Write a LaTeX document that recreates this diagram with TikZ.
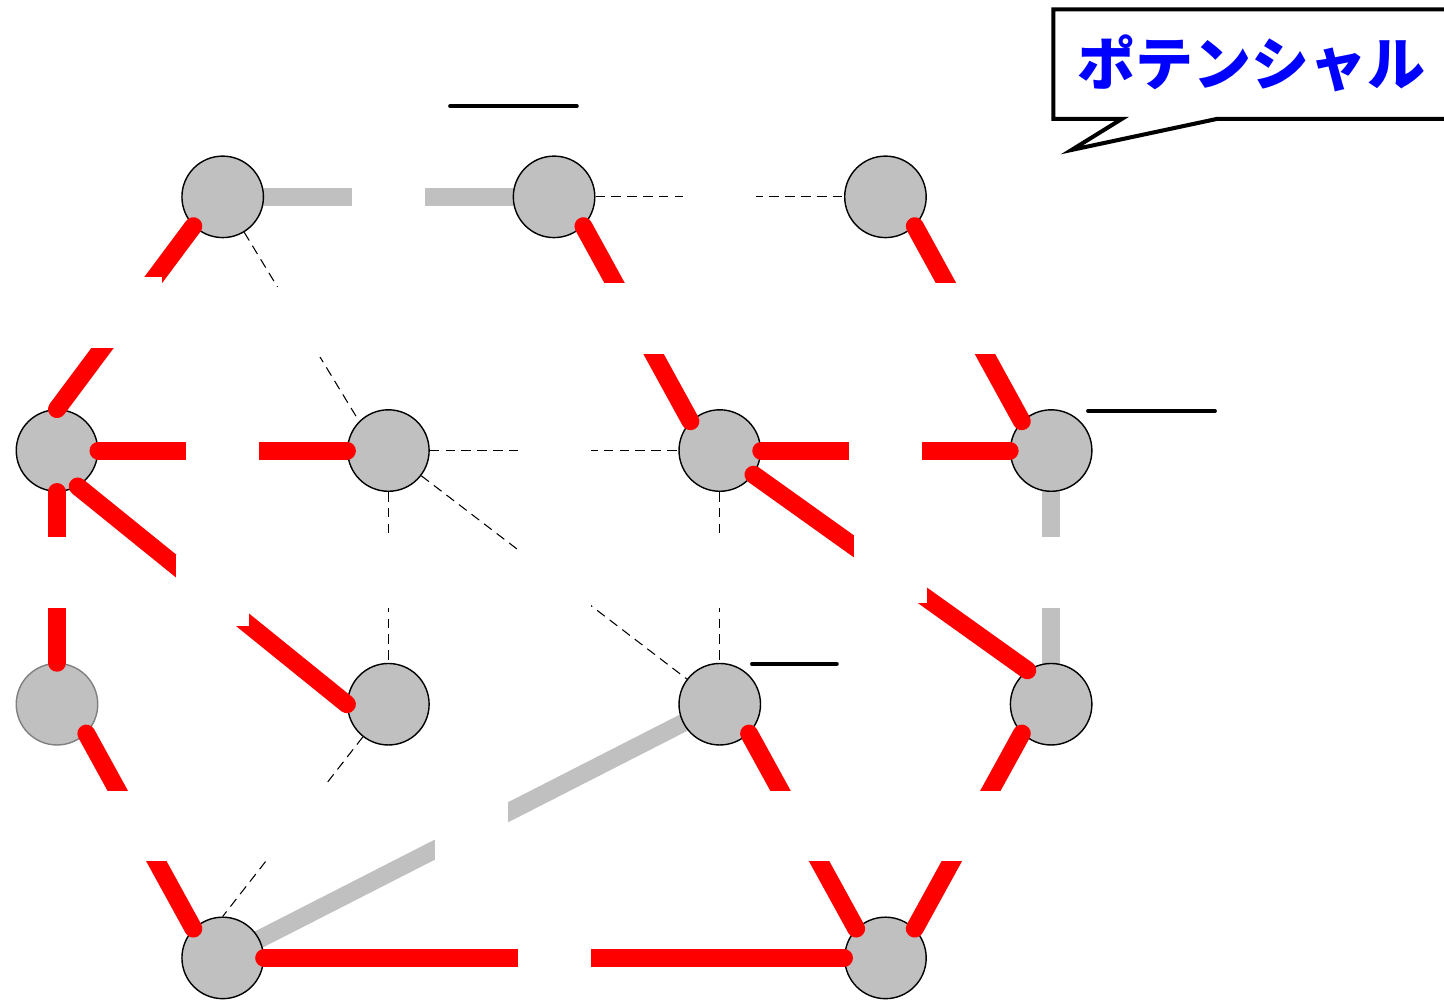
\documentclass[tikz,border=0pt]{standalone}
\usepackage{fontspec}
\newfontfamily\jpfont{Noto Sans CJK JP}
\usetikzlibrary{backgrounds}
\definecolor{sitegray}{RGB}{192,192,192}
\tikzset{
  site/.style={circle,draw,fill=sitegray,minimum size=1.63cm,inner sep=0pt,line width=0.8pt},
  redbond/.style={draw=red,line width=10.2pt,line cap=round},
  graybond/.style={draw=sitegray,line width=10.2pt},
  weakbond/.style={line width=0.6pt,dash pattern=on 5.5pt off 3.5pt},
  gapbox/.style={fill=white,minimum width=1.46cm,minimum height=1.41cm,inner sep=0pt,yshift=0.1cm},
  potbar/.style={line width=2.1pt,line cap=round},
}
\begin{document}
\begin{tikzpicture}[x=3.314cm,y=5.074cm]
\useasboundingbox (-0.344,-0.166) rectangle (8.371,3.776);
% sites
\node[site] (0) at (1,3) {};
\node[site] (1) at (3,3) {};
\node[site] (2) at (5,3) {};
\node[site] (3) at (0,2) {};
\node[site] (4) at (2,2) {};
\node[site] (5) at (4,2) {};
\node[site] (6) at (6,2) {};
\node[site,draw=gray] (7) at (0,1) {};
\node[site] (8) at (2,1) {};
\node[site] (9) at (4,1) {};
\node[site] (10) at (6,1) {};
\node[site] (11) at (1,0) {};
\node[site] (12) at (5,0) {};
% gray and dashed bonds, behind the sites
\begin{scope}[on background layer]
\draw[graybond](0.center)--node[gapbox]{}(1.center);
\draw[graybond](6.center)--node[gapbox]{}(10.center);
\draw[graybond](9.center)--node[gapbox]{}(11.center);
\draw[weakbond](1)--node[gapbox]{}(2);
\draw[weakbond](0)--node[gapbox]{}(4.north west);
\draw[weakbond](4)--node[gapbox]{}(5);
\draw[weakbond](4)--node[gapbox]{}(8);
\draw[weakbond](4)--node[gapbox]{}(9);
\draw[weakbond](5)--node[gapbox]{}(9);
\draw[weakbond](8)--node[gapbox]{}(11.north);
\end{scope}
% red bonds
\draw[redbond](0.south west)--node[gapbox]{}(3.north);
\draw[redbond](1.south east)--node[gapbox]{}(5.north west);
\draw[redbond](2.south east)--node[gapbox]{}(6.north west);
\draw[redbond](3.east)--node[gapbox]{}(4.west);
\draw[redbond](3.south)--node[gapbox]{}(7.north);
\draw[redbond](3.-60)--node[gapbox]{}(8.west);
\draw[redbond](5.east)--node[gapbox]{}(6.west);
\draw[redbond](5)--node[gapbox]{}(10.125);
\draw[redbond](7.south east)--node[gapbox]{}(11.north west);
\draw[redbond](9.south east)--node[gapbox]{}(12.north west);
\draw[redbond](10.south west)--node[gapbox]{}(12.north east);
\draw[redbond](11.east)--node[gapbox]{}(12.west);
% potential levels
\draw[potbar](2.372,3.358)--(3.138,3.358);
\draw[potbar](6.222,2.156)--(6.989,2.156);
\draw[potbar](4.194,1.159)--(4.707,1.159);
% callout
\draw[line width=2.3pt,fill=white](6.013,3.307)--(6.426,3.307)--(6.124,3.185)--(6.999,3.307)--(8.5,3.307)--(8.5,3.739)--(6.013,3.739)--cycle;
\node[text=blue,font=\jpfont\bfseries\fontsize{33}{40}\selectfont] (title) at (7.210,3.528) {ポテンシャル};
\end{tikzpicture}
\end{document}
